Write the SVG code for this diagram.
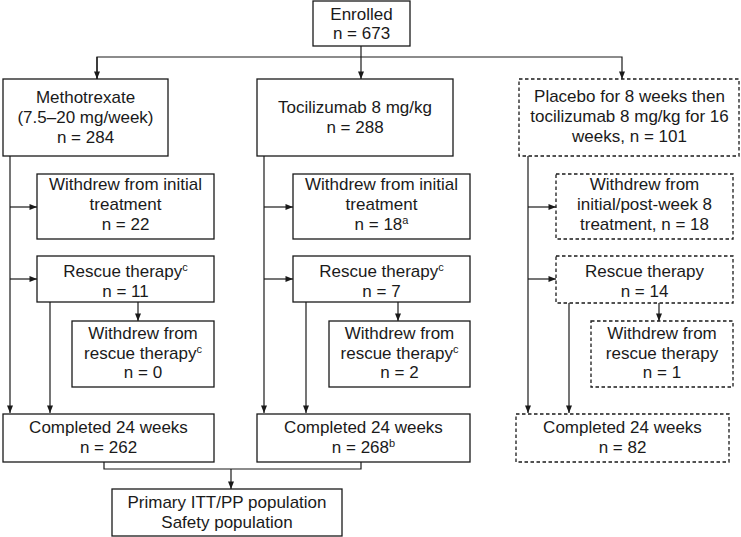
<svg xmlns="http://www.w3.org/2000/svg" width="741" height="537" viewBox="0 0 741 537">
<defs>
<style>
.box{fill:#fff;stroke:#1a1a1a;stroke-width:1.3}
.dash{stroke-dasharray:3.5,2.5}
.ln{fill:none;stroke:#1a1a1a;stroke-width:1.2}
text{font-family:"Liberation Sans",Arial,sans-serif;font-size:17px;fill:#1a1a1a;text-anchor:middle}
.sup{font-size:11px}
</style>
<marker id="ah" viewBox="0 0 10 8" refX="10" refY="4" markerWidth="9" markerHeight="6" markerUnits="userSpaceOnUse" orient="auto">
<path d="M0,0 L10,4 L0,8 z" fill="#1a1a1a"/>
</marker>
</defs>
<g id="connectors">
<path class="ln" d="M361,46 V79" marker-end="url(#ah)"/>
<path class="ln" d="M97,79 V57 H622 V79" marker-end="url(#ah)"/>
<path class="ln" d="M97,57 V79" marker-end="url(#ah)"/>
<path class="ln" d="M10,156 V413" marker-end="url(#ah)"/>
<path class="ln" d="M10,207 H37" marker-end="url(#ah)"/>
<path class="ln" d="M10,279 H37" marker-end="url(#ah)"/>
<path class="ln" d="M50,302 V413" marker-end="url(#ah)"/>
<path class="ln" d="M138,302 V321" marker-end="url(#ah)"/>
<path class="ln" d="M264,156 V413" marker-end="url(#ah)"/>
<path class="ln" d="M264,207 H293" marker-end="url(#ah)"/>
<path class="ln" d="M264,279 H293" marker-end="url(#ah)"/>
<path class="ln" d="M306,302 V413" marker-end="url(#ah)"/>
<path class="ln" d="M398,302 V321" marker-end="url(#ah)"/>
<path class="ln" d="M528,156 V413" marker-end="url(#ah)"/>
<path class="ln" d="M528,207 H556" marker-end="url(#ah)"/>
<path class="ln" d="M528,279 H556" marker-end="url(#ah)"/>
<path class="ln" d="M569,303 V413" marker-end="url(#ah)"/>
<path class="ln" d="M659,303 V321" marker-end="url(#ah)"/>
<path class="ln" d="M104,462 V469 H361 V462"/>
<path class="ln" d="M231,469 V489" marker-end="url(#ah)"/>
</g>
<g id="enrolled">
<rect class="box" x="313" y="1" width="97" height="45"/>
<text x="361.5" y="20">Enrolled</text>
<text x="361.5" y="39">n = 673</text>
</g>
<g id="mtx">
<rect class="box" x="3" y="79" width="165" height="77"/>
<text x="85.5" y="103">Methotrexate</text>
<text x="85.5" y="123">(7.5–20 mg/week)</text>
<text x="85.5" y="143">n = 284</text>
</g>
<g id="tcz">
<rect class="box" x="257" y="79" width="196" height="77"/>
<text x="355" y="113">Tocilizumab 8 mg/kg</text>
<text x="355" y="133">n = 288</text>
</g>
<g id="pbo">
<rect class="box dash" x="519" y="79" width="220" height="77"/>
<text x="629.5" y="102">Placebo for 8 weeks then</text>
<text x="629.5" y="122">tocilizumab 8 mg/kg for 16</text>
<text x="629.5" y="142">weeks, n = 101</text>
</g>
<g id="mtx-withdrew">
<rect class="box" x="37" y="174" width="177" height="65"/>
<text x="125.5" y="190">Withdrew from initial</text>
<text x="125.5" y="210">treatment</text>
<text x="125.5" y="230">n = 22</text>
</g>
<g id="mtx-rescue">
<rect class="box" x="37" y="256" width="177" height="46"/>
<text x="125.5" y="277">Rescue therapy<tspan class="sup" dy="-6">c</tspan></text>
<text x="125.5" y="297">n = 11</text>
</g>
<g id="mtx-rescue-withdrew">
<rect class="box" x="72" y="321" width="142" height="66"/>
<text x="143" y="339">Withdrew from</text>
<text x="143" y="359">rescue therapy<tspan class="sup" dy="-6">c</tspan></text>
<text x="143" y="378">n = 0</text>
</g>
<g id="mtx-completed">
<rect class="box" x="3" y="414" width="211" height="48"/>
<text x="108.5" y="433">Completed 24 weeks</text>
<text x="108.5" y="453">n = 262</text>
</g>
<g id="tcz-withdrew">
<rect class="box" x="293" y="174" width="177" height="65"/>
<text x="381.5" y="190">Withdrew from initial</text>
<text x="381.5" y="210">treatment</text>
<text x="381.5" y="230">n = 18<tspan class="sup" dy="-6">a</tspan></text>
</g>
<g id="tcz-rescue">
<rect class="box" x="293" y="256" width="177" height="46"/>
<text x="381.5" y="277">Rescue therapy<tspan class="sup" dy="-6">c</tspan></text>
<text x="381.5" y="297">n = 7</text>
</g>
<g id="tcz-rescue-withdrew">
<rect class="box" x="329" y="321" width="141" height="66"/>
<text x="399.5" y="339">Withdrew from</text>
<text x="399.5" y="359">rescue therapy<tspan class="sup" dy="-6">c</tspan></text>
<text x="399.5" y="378">n = 2</text>
</g>
<g id="tcz-completed">
<rect class="box" x="257" y="414" width="213" height="48"/>
<text x="363.5" y="433">Completed 24 weeks</text>
<text x="363.5" y="453">n = 268<tspan class="sup" dy="-6">b</tspan></text>
</g>
<g id="pbo-withdrew">
<rect class="box dash" x="556" y="174" width="177" height="65"/>
<text x="644.5" y="190">Withdrew from</text>
<text x="644.5" y="210">initial/post-week 8</text>
<text x="644.5" y="230">treatment, n = 18</text>
</g>
<g id="pbo-rescue">
<rect class="box dash" x="556" y="256" width="177" height="47"/>
<text x="644.5" y="277">Rescue therapy</text>
<text x="644.5" y="297">n = 14</text>
</g>
<g id="pbo-rescue-withdrew">
<rect class="box dash" x="591" y="321" width="142" height="66"/>
<text x="662" y="339">Withdrew from</text>
<text x="662" y="359">rescue therapy</text>
<text x="662" y="378">n = 1</text>
</g>
<g id="pbo-completed">
<rect class="box dash" x="516" y="414" width="213" height="48"/>
<text x="622.5" y="433">Completed 24 weeks</text>
<text x="622.5" y="453">n = 82</text>
</g>
<g id="primary">
<rect class="box" x="112" y="489" width="230" height="47"/>
<text x="227" y="508">Primary ITT/PP population</text>
<text x="227" y="528">Safety population</text>
</g>
</svg>
